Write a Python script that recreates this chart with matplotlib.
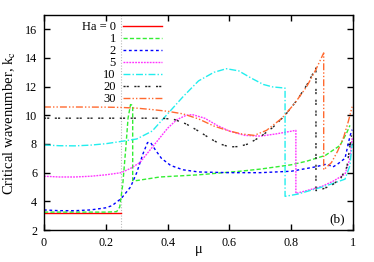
import matplotlib
matplotlib.use("Agg")
import matplotlib.pyplot as plt

plt.rcParams['font.family'] = ['Liberation Serif', 'DejaVu Serif']
plt.rcParams['mathtext.fontset'] = 'stix'

mu_c = 0.25

x_ha0 = [0.0, 0.1, 0.2, 0.25]
y_ha0 = [3.18, 3.18, 3.18, 3.18]

x_ha1 = [0.0, 0.1, 0.2, 0.235, 0.245, 0.255, 0.265, 0.272, 0.28, 0.287, 0.287, 0.3, 0.375, 0.5, 0.634, 0.7, 0.8, 0.85, 0.91, 0.958, 0.98, 0.99]
y_ha1 = [3.25, 3.25, 3.25, 3.28, 3.6, 5.2, 7.8, 9.8, 10.75, 10.7, 5.45, 5.45, 5.7, 5.85, 6.1, 6.25, 6.55, 6.8, 7.2, 7.9, 8.8, 9.3]

x_ha2 = [0.0, 0.05, 0.1, 0.15, 0.2, 0.22, 0.25, 0.28, 0.3, 0.32, 0.335, 0.345, 0.36, 0.38, 0.41, 0.45, 0.5, 0.6, 0.7, 0.8, 0.877, 0.915, 0.935, 0.95, 0.974, 0.99, 0.997]
y_ha2 = [3.4, 3.35, 3.35, 3.4, 3.55, 3.7, 4.2, 5.0, 6.0, 7.3, 8.1, 8.1, 7.6, 7.0, 6.5, 6.2, 6.05, 6.0, 6.0, 6.1, 6.4, 6.6, 6.4, 6.6, 7.0, 8.55, 9.0]

x_ha5 = [0.0, 0.05, 0.1, 0.15, 0.2, 0.25, 0.28, 0.31, 0.34, 0.37, 0.4, 0.43, 0.46, 0.48, 0.52, 0.56, 0.6, 0.65, 0.7, 0.75, 0.815, 0.815, 0.85, 0.9, 0.935, 0.974, 0.99, 0.997]
y_ha5 = [5.75, 5.7, 5.7, 5.75, 5.85, 6.0, 6.3, 6.7, 7.5, 8.3, 9.1, 9.7, 10.0, 10.05, 9.8, 9.3, 8.9, 8.6, 8.55, 8.7, 8.95, 4.55, 4.75, 5.05, 5.4, 5.9, 7.0, 8.4]

x_ha10 = [0.0, 0.05, 0.1, 0.15, 0.2, 0.25, 0.3, 0.35, 0.4, 0.45, 0.5, 0.55, 0.59, 0.63, 0.67, 0.71, 0.74, 0.78, 0.78, 0.82, 0.86, 0.9, 0.935, 0.974, 0.99, 0.997]
y_ha10 = [7.93, 7.88, 7.87, 7.92, 8.02, 8.18, 8.35, 8.9, 10.1, 11.3, 12.4, 13.0, 13.25, 13.1, 12.6, 12.15, 11.98, 11.9, 4.35, 4.5, 4.75, 5.0, 5.25, 5.55, 6.5, 8.0]

x_ha20 = [0.0, 0.1, 0.2, 0.3, 0.38, 0.42, 0.46, 0.5, 0.54, 0.57, 0.6, 0.63, 0.66, 0.7, 0.74, 0.78, 0.82, 0.85, 0.88, 0.88, 0.9, 0.93, 0.96, 0.98, 0.995]
y_ha20 = [9.8, 9.8, 9.8, 9.8, 9.8, 9.72, 9.4, 8.9, 8.35, 8.0, 7.8, 7.82, 8.0, 8.5, 9.15, 10.0, 11.1, 12.1, 13.3, 4.75, 4.85, 5.1, 5.6, 6.4, 8.6]

x_ha30 = [0.0, 0.1, 0.2, 0.25, 0.3, 0.35, 0.4, 0.45, 0.5, 0.55, 0.6, 0.64, 0.68, 0.72, 0.77, 0.81, 0.85, 0.88, 0.905, 0.905, 0.93, 0.95, 0.97, 0.985, 0.997]
y_ha30 = [10.58, 10.58, 10.57, 10.55, 10.5, 10.4, 10.28, 10.1, 9.75, 9.25, 8.9, 8.7, 8.6, 8.95, 9.8, 10.8, 12.0, 13.2, 14.35, 6.2, 6.7, 7.5, 8.5, 9.6, 10.6]

labels = ['Ha = 0', '1', '2', '5', '10', '20', '30']

fig = plt.figure(figsize=(3.74, 2.62), dpi=100)
ax = fig.add_axes([0.1176, 0.122, 0.8264, 0.821])

ax.axvline(mu_c, color='#bbbbbb', lw=0.8, ls=(0, (1, 1.5)), zorder=1)

series = [
    (x_ha0, y_ha0, '#ff0000', '-'),
    (x_ha1, y_ha1, '#33ee33', (0, (3, 1.6))),
    (x_ha2, y_ha2, '#0000ff', (0, (2, 1.9))),
    (x_ha5, y_ha5, '#ff33ff', (0, (1.3, 0.8))),
    (x_ha10, y_ha10, '#22eeee', (0, (5, 1.5, 1, 1.5))),
    (x_ha20, y_ha20, '#222222', (0, (1.5, 0.8, 1.5, 4))),
    (x_ha30, y_ha30, '#ff6a30', (0, (5, 1.5, 1, 1.5, 1, 1.5))),
]
for (xs, ys, c, ls), lab in zip(series, labels):
    ax.plot(xs, ys, color=c, ls=ls, lw=1.0, label=lab, zorder=2)

ax.set_xlim(0, 1)
ax.set_ylim(2, 17)
ax.set_xticks([0, 0.2, 0.4, 0.6, 0.8, 1])
ax.set_xticklabels(['0', '0.2', '0.4', '0.6', '0.8', '1'])
ax.set_yticks([2, 4, 6, 8, 10, 12, 14, 16])
ax.tick_params(direction='in', top=True, right=True, length=4, width=1, labelsize=8.7, pad=5)
for s in ax.spines.values():
    s.set_linewidth(1.0)

ax.set_ylabel('Critical wavenumber, k$_\\mathrm{c}$', fontsize=10.5)
ax.yaxis.set_label_coords(-0.085, 0.5)
ax.set_xlabel('\u03bc', fontsize=10.5)
ax.xaxis.set_label_coords(0.5, -0.06)
ax.text(0.975, 0.022, '(b)', transform=ax.transAxes, fontsize=9.5, ha='right', va='bottom')

leg = ax.legend(loc='upper right', bbox_to_anchor=(0.382, 0.972), frameon=False,
                markerfirst=False, fontsize=9, handlelength=3.1, handletextpad=0.6,
                labelspacing=0.0, borderpad=0, borderaxespad=0)

fig.savefig('out.png', dpi=100)
